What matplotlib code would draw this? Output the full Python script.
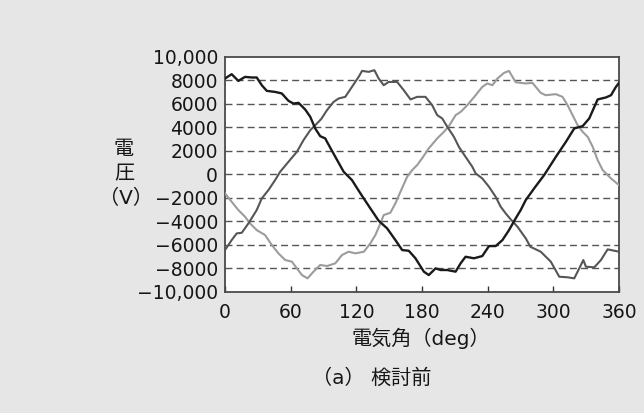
import matplotlib
matplotlib.use("Agg")
import matplotlib.pyplot as plt
from matplotlib.ticker import FixedLocator, FixedFormatter

plt.rcParams['font.family'] = ['DejaVu Sans', 'Noto Sans CJK JP']
plt.rcParams['axes.unicode_minus'] = True

# Black curve (angle deg, voltage V)
black_deg = [0, 6.1, 12.2, 18.3, 24.4, 29, 33.6, 38.2, 45.8, 51.9, 58, 62.6, 67.2, 73.3, 77.9,
             82.4, 87, 91.6, 93.2, 100.8, 108.4, 116, 123.7, 132.8, 140.4, 148.1, 155.7, 161.9,
             167.9, 174, 181.7, 186.2, 192.4, 197, 203, 210.7, 215.3, 219.8, 227.5, 235.1, 241.2,
             247.3, 253.5, 259.5, 265.6, 270.2, 274.8, 283, 291.6, 302.3, 311.5, 319.1, 326.8,
             332.8, 340.5, 348.1, 352.7, 357.2, 360]
black_v = [8140, 8510, 7940, 8280, 8230, 8230, 7570, 7090, 7000, 6870, 6240, 6010, 6070, 5500, 4880,
           3890, 3230, 3040, 2750, 1470, 200, -510, -1640, -2920, -3970, -4620, -5620, -6470,
           -6530, -7170, -8310, -8600, -8030, -8170, -8170, -8310, -7600, -7040, -7170, -6980, -6130,
           -6130, -5620, -4770, -3770, -3060, -2210, -1150, -85, 1470, 2750, 3890, 4090,
           4740, 6360, 6530, 6720, 7430, 7770]

# Medium-grey curve
mid_deg = [0, 6.1, 10.7, 15.3, 21.4, 29, 33.6, 39.7, 45.8, 50.4, 58, 65.7, 71.7, 77.9, 84,
           88, 93.2, 99.2, 103.8, 109.9, 116, 122.1, 125.2, 131.3, 136.5, 140.4, 145, 149.6,
           157.3, 163.3, 169.5, 175.6, 183.2, 189.3, 193.9, 198.5, 203.1, 209.2, 213.7, 219.8,
           226, 229, 235.1, 241.2, 247.3, 251.9, 256.5, 261.1, 267.2, 274.8, 279, 288.5, 297.7,
           305.4, 313, 319.1, 323.7, 327.4, 329.8, 337.4, 343.5, 349.6, 360]
mid_v = [-6470, -5620, -5050, -5000, -4200, -3060, -2070, -1360, -510, 200, 1050, 1900, 2890, 3740, 4310,
         4700, 5450, 6150, 6440, 6580, 7430, 8280, 8790, 8710, 8850, 8140, 7570, 7850,
         7850, 7150, 6360, 6580, 6580, 5870, 5020, 4740, 4030, 3170, 2320, 1470,
         620, 60, -370, -1080, -1930, -2780, -3350, -3860, -4480, -5470, -6190, -6610, -7460,
         -8740, -8790, -8880, -8030, -7320, -7890, -7940, -7320, -6410, -6610]

# Light-grey curve
light_deg = [0, 6.1, 12.2, 18.3, 22.9, 29, 36.6, 42.8, 48.8, 55, 61.1, 65.7, 70.3, 75.4, 80.9,
             87, 93.2, 100.8, 106.9, 113, 119.1, 126.9, 132.8, 137.4, 142, 145, 151.1, 155.7,
             160.3, 166.4, 171, 175.6, 180.5, 186.2, 193.9, 200, 204.6, 210.7, 215.3, 221.4, 229,
             235.1, 239.7, 244.3, 248.9, 254.9, 259.5, 265.6, 274.8, 280.9, 288.5, 293.1, 302.3,
             308.4, 313, 317.6, 322.2, 326.8, 331.4, 336, 340.5, 345.1, 352.7, 360]
light_v = [-1640, -2360, -3060, -3630, -4200, -4770, -5190, -6040, -6750, -7320, -7460, -8030, -8600, -8880, -8310,
           -7740, -7830, -7600, -6890, -6610, -6750, -6610, -5900, -5190, -4200, -3490, -3290, -2490,
           -1510, -230, 340, 770, 1400, 2190, 3040, 3600, 4090, 5020, 5300, 5870, 6720,
           7430, 7720, 7570, 8140, 8620, 8790, 7820, 7720, 7770, 6920, 6720, 6810,
           6580, 5870, 5020, 4170, 3600, 3170, 2320, 1190, 340, -370, -940]

x_ticks = [0, 60, 120, 180, 240, 300, 360]
y_ticks = [-10000, -8000, -6000, -4000, -2000, 0, 2000, 4000, 6000, 8000, 10000]
y_tick_labels = ['\u221210,000', '\u22128000', '\u22126000', '\u22124000', '\u22122000', '0',
                 '2000', '4000', '6000', '8000', '10,000']

bg = '#e6e6e6'
txt = '#161616'

fig = plt.figure(figsize=(6.44, 4.13), dpi=100, facecolor=bg)
ax = fig.add_axes([225/644, 1 - 291.5/413, 394/644, (291.5 - 56.7)/413])
ax.set_facecolor('white')

ax.plot(light_deg, light_v, color='#9c9c9c', lw=1.5, zorder=3)
ax.plot(mid_deg, mid_v, color='#565656', lw=1.5, zorder=4)
ax.plot(black_deg, black_v, color='#1a1a1a', lw=1.7, zorder=5)

ax.set_xlim(0, 360)
ax.set_ylim(-10000, 10000)
ax.xaxis.set_major_locator(FixedLocator(x_ticks))
ax.yaxis.set_major_locator(FixedLocator(y_ticks))
ax.yaxis.set_major_formatter(FixedFormatter(y_tick_labels))

for yv in y_ticks[1:-1]:
    ax.axhline(yv, color='#555555', lw=1.0, ls=(0, (5, 3)), zorder=1)

ax.tick_params(axis='x', direction='in', length=4, width=1, color='#333333',
               labelsize=13.5, labelcolor=txt, pad=8)
ax.tick_params(axis='y', length=0, labelsize=13.5, labelcolor=txt, pad=5)

for s in ax.spines.values():
    s.set_color('#4a4a4a')
    s.set_linewidth(1.3)

jp = 14.5
fig.text(124/644, 1 - 150/413, '電', ha='center', va='center', fontsize=jp, color=txt)
fig.text(124/644, 1 - 174/413, '圧', ha='center', va='center', fontsize=jp, color=txt)
fig.text(126/644, 1 - 198/413, '（V）', ha='center', va='center', fontsize=jp, color=txt)

fig.text(421/644, 1 - 338/413, '電気角（deg）', ha='center', va='center', fontsize=jp, color=txt)
fig.text(372/644, 1 - 378/413, '（a） 検討前', ha='center', va='center', fontsize=jp, color=txt)

fig.savefig('out.png', dpi=100, facecolor=bg)
